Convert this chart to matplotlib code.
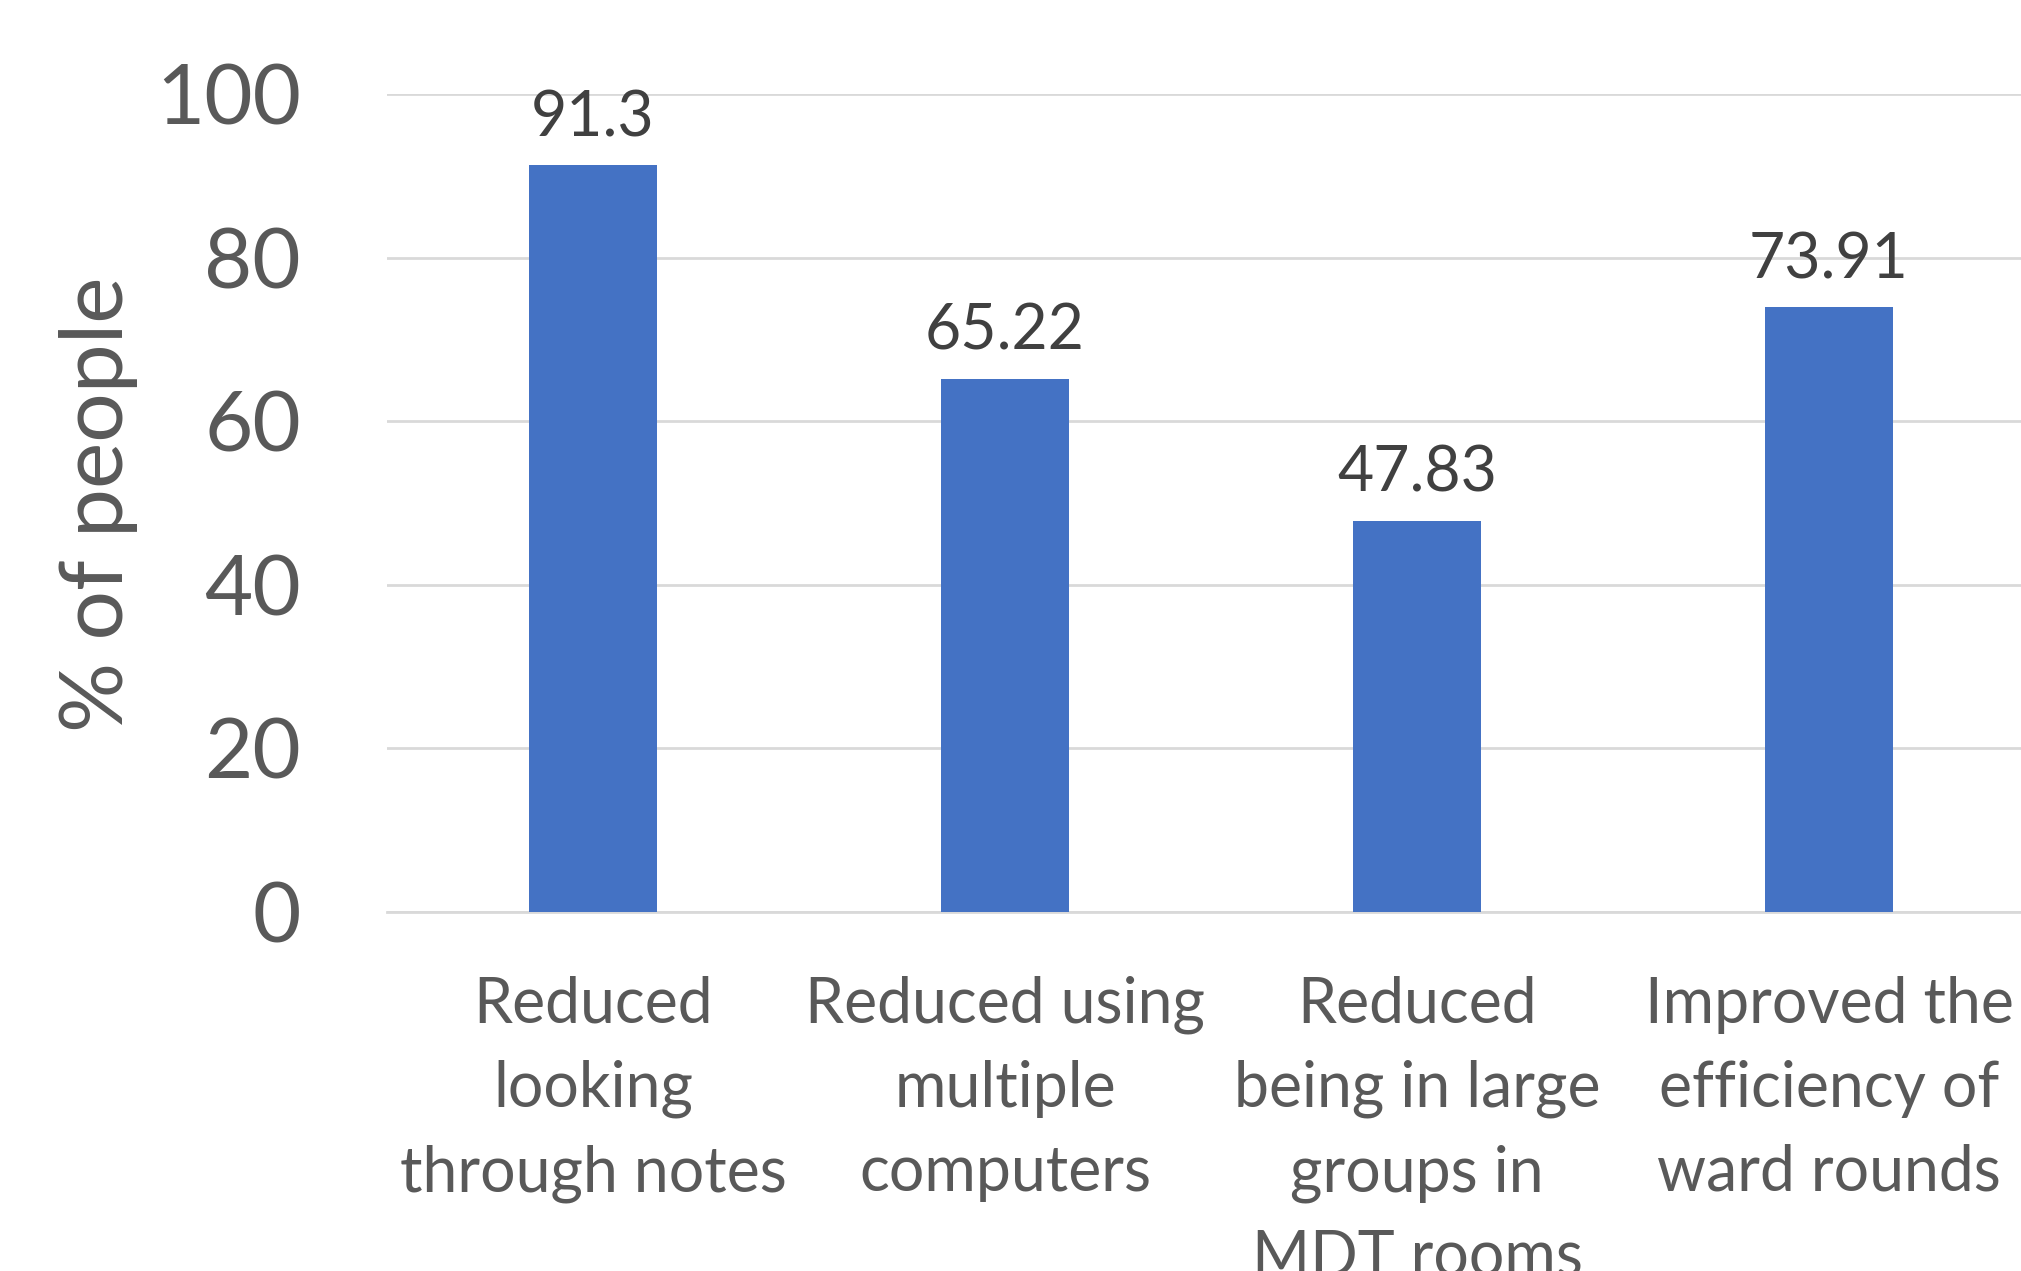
import matplotlib.pyplot as plt

# Data
categories = ['Reduced\nlooking\nthrough notes',
              'Reduced using\nmultiple\ncomputers',
              'Reduced\nbeing in large\ngroups in\nMDT rooms',
              'Improved the\nefficiency of\nward rounds']
values = [91.3, 65.22, 47.83, 73.91]
value_labels = ['91.3', '65.22', '47.83', '73.91']
yticks = [0, 20, 40, 60, 80, 100]

plt.rcParams['font.family'] = ['Lato', 'DejaVu Sans']

fig = plt.figure(figsize=(20.21, 12.71), dpi=100)
# the picture is a crop: the plot area runs off the right edge
ax = fig.add_axes([387 / 2021, 359 / 1271, 1648 / 2021, 818 / 1271])

x = list(range(len(values)))
ax.bar(x, values, width=0.3125, color='#4472C4', zorder=3)

for xi, v, lab in zip(x, values, value_labels):
    ax.text(xi, v + 2.2, lab, ha='center', va='bottom', fontsize=45, color='#404040')

ax.set_xlim(-0.5, 3.5)
ax.set_ylim(0, 100)
ax.set_yticks(yticks)
ax.set_yticklabels([str(t) for t in yticks], fontsize=60, color='#595959')
ax.set_xticks(x)
ax.set_xticklabels(categories, fontsize=45, color='#595959', linespacing=1.55)
ax.tick_params(axis='x', length=0, pad=46)
ax.tick_params(axis='y', length=0, pad=62)

ax.grid(axis='y', color='#d9d9d9', linewidth=2, zorder=0)
for side in ['top', 'right', 'left']:
    ax.spines[side].set_visible(False)
ax.spines['bottom'].set_color('#d9d9d9')
ax.spines['bottom'].set_linewidth(2)

fig.text(99 / 2021, 1 - 504 / 1271, '% of people', rotation=90, ha='center', va='center',
         fontsize=63, color='#595959')

fig.savefig('out.png', dpi=100)
